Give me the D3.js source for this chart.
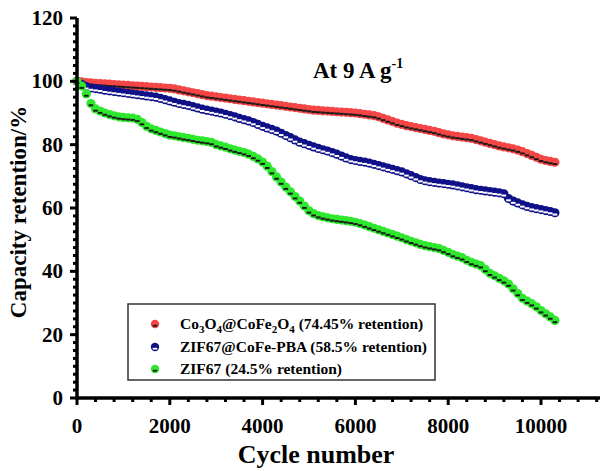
<!DOCTYPE html>
<html><head><meta charset="utf-8">
<script src="https://cdn.jsdelivr.net/npm/d3@7"></script>
<style>body{margin:0;background:#fff}svg{display:block}</style>
</head><body>
<svg id="c" width="600" height="471"></svg>
<script>
const cycles = d3.range(0, 10301, 100);
const xTicks = [0, 2000, 4000, 6000, 8000, 10000];
const yTicks = [0, 20, 40, 60, 80, 100, 120];
const seriesNames = ["Co3O4@CoFe2O4 (74.45% retention)", "ZIF67@CoFe-PBA (58.5% retention)", "ZIF67 (24.5% retention)"];
const red = [100,99.8,99.6,99.5,99.4,99.3,99.2,99.1,99,98.9,98.8,98.7,98.6,98.5,98.4,98.3,98.2,98.1,98,97.9,
97.8,97.6,97.3,97,96.7,96.4,96.1,95.8,95.5,95.3,95.1,94.9,94.7,94.5,94.3,94.1,93.9,93.7,93.5,93.3,
93.1,92.9,92.7,92.5,92.3,92.1,91.9,91.7,91.5,91.3,91.1,90.9,90.8,90.7,90.6,90.5,90.4,90.3,90.2,90.1,
90,89.8,89.6,89.4,89.2,88.8,88.3,87.8,87.3,86.8,86.4,86,85.7,85.4,85.1,84.8,84.5,84.2,83.8,83.4,
83.1,82.8,82.6,82.4,82.2,82,81.6,81.2,80.8,80.4,80,79.6,79.3,79,78.7,78.3,77.8,77.2,76.6,76,
75.4,75,74.7,74.45];
const blue = [100,99,98.3,97.9,97.7,97.5,97.2,97,96.8,96.6,96.4,96.2,96,95.8,95.6,95.4,95.2,95,94.6,94.2,
93.8,93.4,93,92.7,92.4,92,91.6,91.2,90.9,90.6,90.3,90,89.6,89.2,88.8,88.3,87.9,87.5,87,86.4,
85.8,85.3,84.8,84.3,83.6,82.9,82.2,81.5,80.8,80.3,79.8,79.3,78.8,78.4,78,77.5,77,76.4,75.8,75.3,
75,74.7,74.5,74.2,73.8,73.4,73,72.6,72.2,71.8,71.4,70.8,70.2,69.6,69,68.6,68.3,68.1,67.9,67.7,
67.5,67.3,67,66.7,66.4,66.1,65.8,65.6,65.4,65.2,65,64.8,64.5,63,62.2,61.6,61,60.5,60.1,59.8,
59.5,59.2,58.9,58.5];
const green = [100,98.5,96,93,91.3,90.6,90,89.5,89.1,88.8,88.6,88.5,88.4,88,87,85.8,85,84.5,84,83.5,
83,82.8,82.5,82.2,82,81.7,81.4,81.2,81,80.7,80,79.6,79.2,78.7,78.3,77.9,77.5,77,76.3,75.5,
74.5,73.2,71.5,69.8,68.2,66.6,65.1,63.6,62.2,60.6,59.1,58.2,57.6,57.2,56.9,56.6,56.4,56.2,56,55.8,
55.5,55.1,54.6,54.1,53.6,53.1,52.6,52.1,51.6,51.1,50.6,50,49.5,49,48.5,48.1,47.8,47.5,47.2,46.6,
46,45.3,44.8,44.3,43.5,42.8,42.3,41.8,40.6,39.4,38.6,37.8,37,36,34.5,33,31.5,30.6,29.8,28.8,
27.6,26.6,25.6,24.5];

const svg = d3.select("#c");
const x = d3.scaleLinear().domain([0, 10000]).range([77, 541]);
const y = d3.scaleLinear().domain([0, 120]).range([398, 18]);
const font = "'Liberation Serif','Times New Roman',serif";

const styles = [
  {fill:"#f54646", dash:"#1a1a1a"},
  {fill:"#101088", dash:"#ffffff"},
  {fill:"#2ee82e", dash:"#1a1a1a"}
];
const data = [red, blue, green];

// series
data.forEach((vals, si) => {
  const st = styles[si];
  const g = svg.append("g");
  const pts = cycles.map((c, i) => [x(c), y(vals[i])]);
  g.selectAll("circle").data(pts).join("circle")
    .attr("cx", d => d[0]).attr("cy", d => d[1]).attr("r", 4.6)
    .attr("fill", st.fill);
  g.selectAll("line").data(pts).join("line")
    .attr("x1", d => d[0] - 2.3).attr("x2", d => d[0] + 2.3)
    .attr("y1", d => d[1] + 1.8).attr("y2", d => d[1] + 1.8)
    .attr("stroke", st.dash).attr("stroke-width", 2);
});

// axes
const ax = svg.append("g");
ax.selectAll(".mx").data(d3.range(0, 11201, 400)).join("line")
  .attr("x1", d => x(d)).attr("x2", d => x(d)).attr("y1", 398).attr("y2", d => d % 2000 === 0 ? 405 : 402)
  .attr("stroke", "#000").attr("stroke-width", 3);
ax.selectAll(".my").data(d3.range(0, 120.1, 2.5)).join("line")
  .attr("y1", d => y(d)).attr("y2", d => y(d)).attr("x1", 77).attr("x2", d => d % 20 === 0 ? 70 : 73)
  .attr("stroke", "#000").attr("stroke-width", 3);
ax.append("line").attr("x1", 77).attr("x2", 600).attr("y1", 398).attr("y2", 398).attr("stroke", "#000").attr("stroke-width", 3.5);
ax.append("line").attr("x1", 77).attr("x2", 77).attr("y1", 399.5).attr("y2", y(120)).attr("stroke", "#000").attr("stroke-width", 3.5);

ax.selectAll(".xl").data(xTicks).join("text")
  .attr("x", d => x(d)).attr("y", 433).attr("text-anchor", "middle")
  .attr("font-family", font).attr("font-weight", "bold").attr("font-size", 21).text(d => d);
ax.selectAll(".yl").data(yTicks).join("text")
  .attr("x", 63).attr("y", d => y(d) + 7).attr("text-anchor", "end")
  .attr("font-family", font).attr("font-weight", "bold").attr("font-size", 21).text(d => d);

svg.append("text").attr("x", 316).attr("y", 463).attr("text-anchor", "middle")
  .attr("font-family", font).attr("font-weight", "bold").attr("font-size", 26).text("Cycle number");
svg.append("text").attr("transform", "translate(26,212) rotate(-90)").attr("text-anchor", "middle")
  .attr("font-family", font).attr("font-weight", "bold").attr("font-size", 23).text("Capacity retention/%");

// annotation
const ann = svg.append("text").attr("x", 313).attr("y", 78)
  .attr("font-family", font).attr("font-weight", "bold").attr("font-size", 23);
ann.append("tspan").text("At 9 A g");
ann.append("tspan").attr("dy", -10).attr("font-size", 14).text("-1");

// legend
const lg = svg.append("g");
lg.append("rect").attr("x", 128).attr("y", 304).attr("width", 307).attr("height", 76)
  .attr("fill", "#fff").attr("stroke", "#333").attr("stroke-width", 1.5);
const rowsY = [324, 347, 369];
rowsY.forEach((ry, i) => {
  const st = styles[i];
  lg.append("circle").attr("cx", 155).attr("cy", ry).attr("r", 4.2).attr("fill", st.fill);
  lg.append("line").attr("x1", 152.7).attr("x2", 157.3).attr("y1", ry + 1.7).attr("y2", ry + 1.7)
    .attr("stroke", st.dash).attr("stroke-width", 1.8);
});
function legText(ry, parts) {
  const t = lg.append("text").attr("x", 180).attr("y", ry + 5)
    .attr("font-family", font).attr("font-weight", "bold").attr("font-size", 15.5);
  parts.forEach(p => {
    const s = t.append("tspan").text(p[0]);
    if (p[1]) s.attr("font-size", 11).attr("dy", 4);
    if (p[2]) s.attr("dy", -4);
  });
}
legText(rowsY[0], [["Co"],["3",1],["O",0,1],["4",1],["@CoFe",0,1],["2",1],["O",0,1],["4",1],[" (74.45% retention)",0,1]]);
legText(rowsY[1], [[seriesNames[1]]]);
legText(rowsY[2], [[seriesNames[2]]]);
</script>
</body></html>
